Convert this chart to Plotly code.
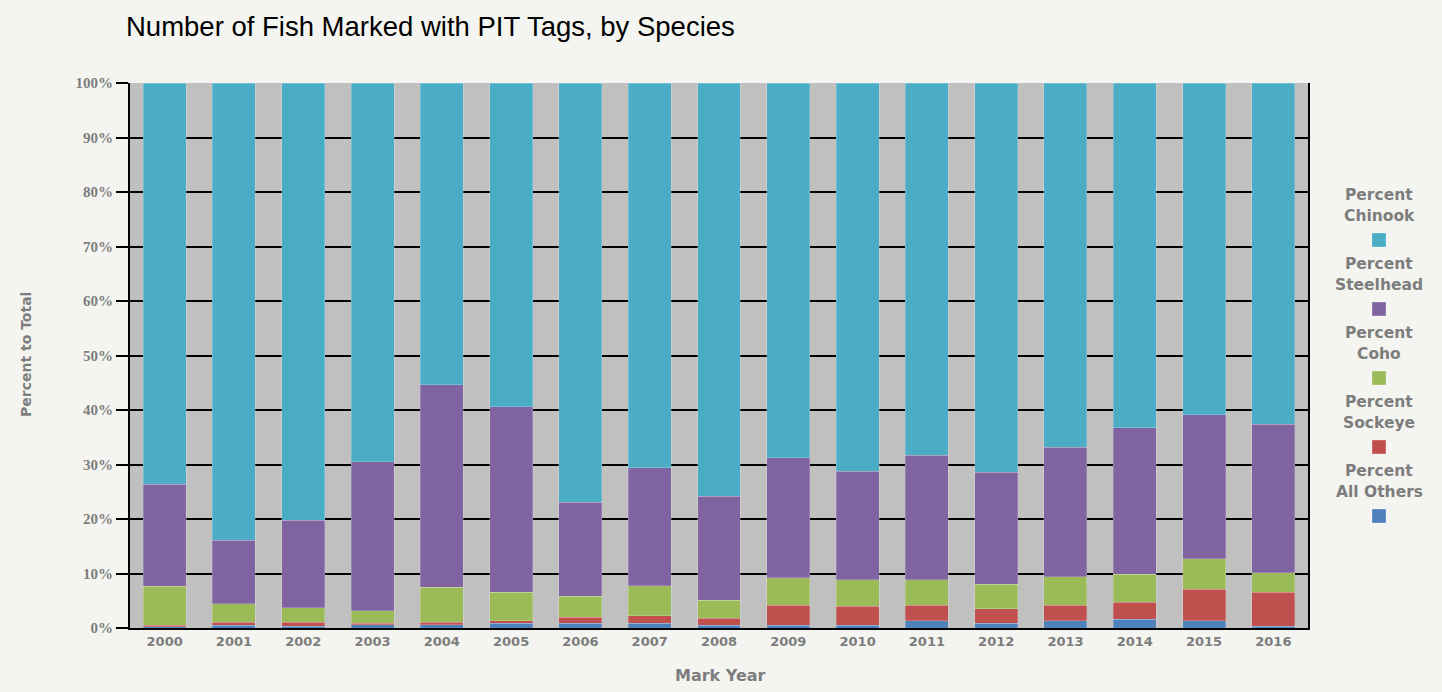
import plotly.graph_objects as go

years = [str(y) for y in range(2000, 2017)]

# cumulative tops (percent)
others = [0.2, 0.55, 0.35, 0.6, 0.6, 0.85, 0.85, 0.85, 0.55, 0.55, 0.55, 1.3, 0.85, 1.3, 1.6, 1.3, 0.35]
sockeye_top = [0.55, 1.1, 1.1, 0.9, 1.1, 1.35, 2.0, 2.25, 1.75, 4.2, 3.95, 4.2, 3.5, 4.2, 4.7, 7.1, 6.6]
coho_top = [7.7, 4.45, 3.7, 3.2, 7.5, 6.6, 5.85, 7.75, 5.1, 9.2, 8.9, 8.9, 8.0, 9.45, 9.9, 12.75, 10.1]
steel_top = [26.4, 16.1, 19.8, 30.5, 44.6, 40.6, 23.1, 29.4, 24.2, 31.2, 28.8, 31.7, 28.6, 33.2, 36.7, 39.1, 37.4]

sockeye = [round(s - o, 2) for s, o in zip(sockeye_top, others)]
coho = [round(c - s, 2) for c, s in zip(coho_top, sockeye_top)]
steelhead = [round(t - c, 2) for t, c in zip(steel_top, coho_top)]
chinook = [round(100 - t, 2) for t in steel_top]

series_names = ["Percent All Others", "Percent Sockeye", "Percent Coho", "Percent Steelhead", "Percent Chinook"]
series_values = [others, sockeye, coho, steelhead, chinook]
series_colors = ["#4F81BD", "#C0504D", "#9BBB59", "#8064A2", "#4BACC6"]

TXT = "#7d7d7d"
FONT = "DejaVu Sans"

fig = go.Figure()
for name, vals, col in zip(series_names, series_values, series_colors):
    fig.add_trace(go.Bar(
        x=years, y=vals, name=name,
        marker=dict(color=col, line=dict(width=0.6, color="rgba(255,255,255,0.35)")),
        showlegend=False,
    ))

# plot area in pixels: left 130, right 1308, top 83, bottom 628
W, H = 1442, 692
L, R, T, B = 130, 1308, 83, 628
pw, ph = R - L, B - T

def px_x(x):
    return (x - L) / pw

def px_y(y):
    return (B - y) / ph

annotations = []
shapes = []
legend_order = [("Percent", "Chinook", "#4BACC6"), ("Percent", "Steelhead", "#8064A2"),
                ("Percent", "Coho", "#9BBB59"), ("Percent", "Sockeye", "#C0504D"),
                ("Percent", "All Others", "#4F81BD")]
cx = 1379
for i, (l1, l2, col) in enumerate(legend_order):
    base = i * 69
    for txt, yy in ((l1, 195 + base), (l2, 216 + base)):
        annotations.append(dict(
            x=px_x(cx), y=px_y(yy), xref="paper", yref="paper",
            text="<b>" + txt + "</b>", showarrow=False, xanchor="center", yanchor="middle",
            font=dict(family=FONT, size=15.5, color=TXT),
        ))
    sy = 240 + base
    shapes.append(dict(
        type="rect", xref="paper", yref="paper",
        x0=px_x(cx - 7), x1=px_x(cx + 7), y0=px_y(sy + 7), y1=px_y(sy - 7),
        fillcolor=col, line=dict(width=0.5, color="rgba(255,255,255,0.6)"),
    ))

# axis titles placed as annotations
annotations.append(dict(
    x=px_x(26), y=px_y(355), xref="paper", yref="paper", textangle=-90,
    text="<b>Percent to Total</b>", showarrow=False, xanchor="center", yanchor="middle",
    font=dict(family=FONT, size=14, color=TXT),
))
annotations.append(dict(
    x=px_x(720), y=px_y(675), xref="paper", yref="paper",
    text="<b>Mark Year</b>", showarrow=False, xanchor="center", yanchor="middle",
    font=dict(family=FONT, size=16, color=TXT),
))

fig.update_layout(
    barmode="stack",
    bargap=0.38,
    width=W, height=H,
    autosize=False,
    margin=dict(l=L, r=W - R, t=T, b=H - B),
    paper_bgcolor="#F4F5F0",
    plot_bgcolor="#C0C0C0",
    title=dict(text="Number of Fish Marked with PIT Tags, by Species",
               x=126 / W, xanchor="left", y=1 - 26 / H, yanchor="middle",
               font=dict(family="Liberation Sans", size=27.5, color="#000000")),
    xaxis=dict(
        tickfont=dict(family=FONT, size=13, color=TXT),
        showline=True, linecolor="#000000", linewidth=2,
        ticks="", showgrid=False,
        tickprefix="<b>", ticksuffix="</b>",
    ),
    yaxis=dict(
        range=[0, 100], dtick=10, tick0=0,
        tickprefix="<b>", ticksuffix="%</b>",
        tickfont=dict(family="Liberation Serif", size=15, color=TXT),
        showgrid=True, gridcolor="#000000", gridwidth=1.5,
        showline=True, linecolor="#000000", linewidth=2, mirror=True,
        ticks="outside", ticklen=12, tickcolor="#000000", tickwidth=1.5,
        zeroline=False,
    ),
    annotations=annotations,
    shapes=shapes,
    font=dict(family=FONT),
)

fig.write_html(
    "out.html",
    config={"displayModeBar": False},
    post_script="document.body.style.margin='0px';document.body.style.background='#F4F5F0';",
)
